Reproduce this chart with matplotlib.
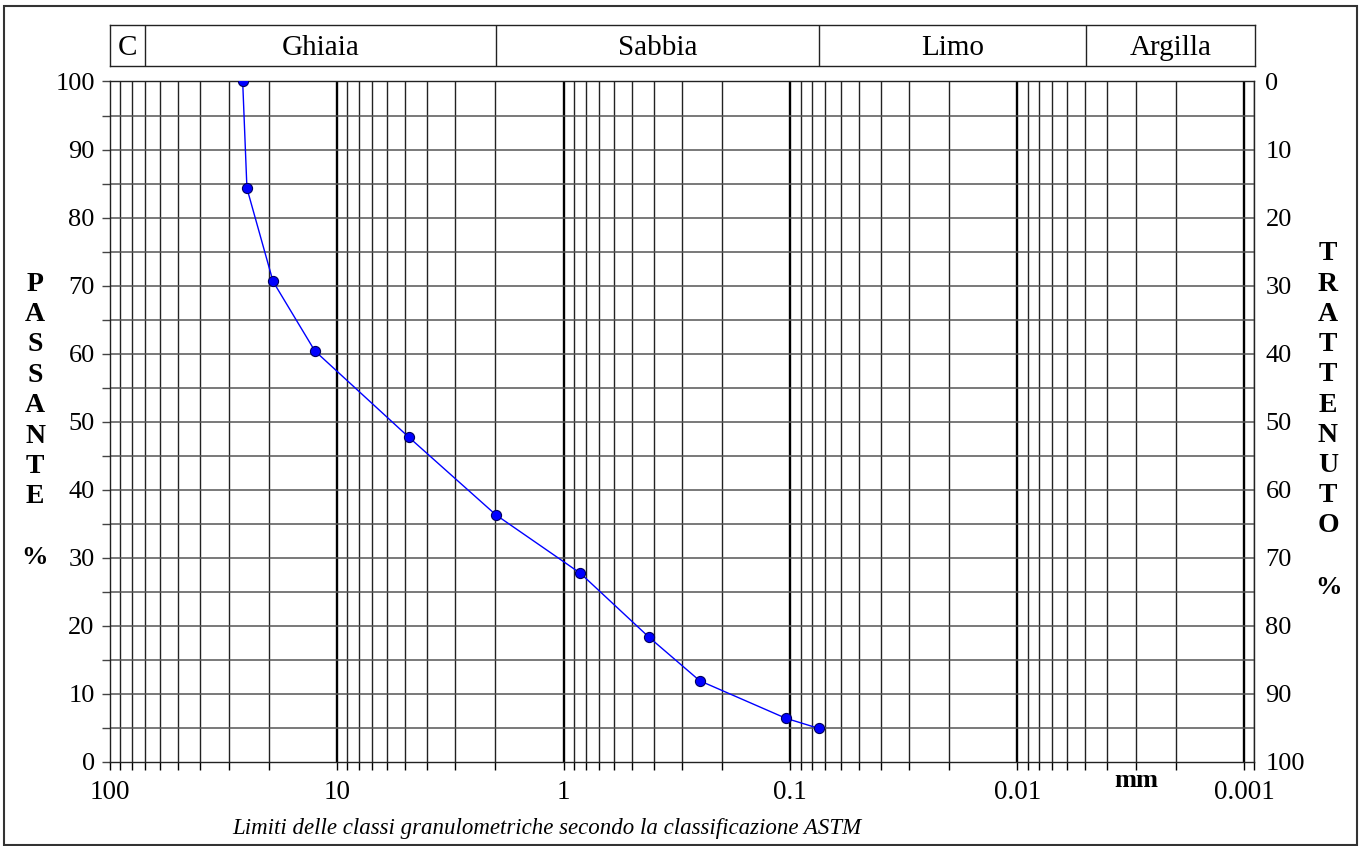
import numpy as np
import matplotlib
matplotlib.use("Agg")
import matplotlib.pyplot as plt
from matplotlib.patches import Rectangle

plt.rcParams['font.family'] = ['Liberation Serif', 'DejaVu Serif']

# grain size curve (mm, % passing)
diametri = [26.0, 24.9, 19.1, 12.5, 4.81, 1.99, 0.843, 0.42, 0.251, 0.105, 0.075]
passante = [100, 84.3, 70.6, 60.4, 47.7, 36.3, 27.7, 18.3, 11.9, 6.4, 4.9]

# ASTM classes
classi = ['C', 'Ghiaia', 'Sabbia', 'Limo', 'Argilla']
limiti = [100, 70, 2, 0.075, 0.005, 0.0009]

decadi = [100, 10, 1, 0.1, 0.01, 0.001]
etichette_x = ['100', '10', '1', '0.1', '0.01', '0.001']

W, H = 1359, 846
fig = plt.figure(figsize=(W / 100, H / 100), dpi=100)

def fx(px):
    return px / W

def fy(py):
    return (H - py) / H

# outer frame
fig.patches.append(Rectangle((fx(4), fy(845)), fx(1357) - fx(4), fy(6) - fy(845),
                             transform=fig.transFigure, fill=False,
                             edgecolor='#333333', linewidth=1.5))

x0, x1 = 110, 1254.3
ax = fig.add_axes([fx(x0), fy(761.7), fx(x1) - fx(x0), fy(81.5) - fy(761.7)])
ax.set_xscale('log')
ax.set_xlim(100, 0.0009)
ax.set_ylim(0, 100)

# vertical grid lines
minori = [m * 10.0 ** k for k in range(-4, 2) for m in range(2, 10)]
minori = [v for v in minori if 0.0009 < v < 100]
for v in minori:
    ax.axvline(v, color='#222222', lw=1.0, zorder=1)
for v in decadi[1:]:
    ax.axvline(v, color='black', lw=1.7, zorder=1)
# horizontal grid lines
for v in range(5, 101, 5):
    ax.axhline(v, color='#555555', lw=1.1, zorder=1)

ax.plot(diametri, passante, color='#0000ff', lw=1.0, marker='o', markersize=7.3,
        markerfacecolor='#0000ff', markeredgecolor='#000060', markeredgewidth=0.8, zorder=3)

ax.set_xticks(decadi)
ax.set_xticklabels(etichette_x)
ax.set_xticks(minori, minor=True)
ax.tick_params(axis='x', which='both', direction='out', length=5.8, width=1.0,
               pad=7.5, labelsize=19.5)
ax.xaxis.set_minor_formatter(plt.NullFormatter())

ax.set_yticks(range(0, 101, 10))
ax.set_yticks(range(5, 101, 10), minor=True)
ax.tick_params(axis='y', which='both', direction='out', length=6, width=1.0,
               pad=5, labelsize=19, left=True, right=True, color='#444444')
for s in ax.spines.values():
    s.set_color('#222222')
    s.set_linewidth(1.0)

ax2 = ax.twinx()
ax2.set_ylim(100, 0)
ax2.set_yticks(range(0, 101, 10))
ax2.tick_params(axis='y', length=0, pad=8, labelsize=19)
for s in ax2.spines.values():
    s.set_visible(False)

# class band on top
band = fig.add_axes([fx(x0), fy(66), fx(x1 + 0.7) - fx(x0), fy(25) - fy(66)])
band.set_xscale('log')
band.set_xlim(100, 0.0009)
band.set_ylim(0, 1)
band.set_xticks([])
band.set_yticks([])
band.minorticks_off()
for s in band.spines.values():
    s.set_linewidth(1.0)
    s.set_color('#222222')
for v in limiti[1:-1]:
    band.axvline(v, color='#222222', lw=1.0)
for i, nome in enumerate(classi):
    centro = np.sqrt(limiti[i] * limiti[i + 1])
    band.text(centro, 0.45, nome, ha='center', va='center', fontsize=21)

# vertical axis titles
for i, c in enumerate('PASSANTE'):
    fig.text(fx(35), fy(284 + i * 30.4), c, ha='center', va='center',
             fontsize=20, fontweight='bold')
fig.text(fx(35), fy(557), '%', ha='center', va='center', fontsize=19, fontweight='bold')
for i, c in enumerate('TRATTENUTO'):
    fig.text(fx(1328), fy(254 + i * 30.2), c, ha='center', va='center',
             fontsize=20, fontweight='bold')
fig.text(fx(1328), fy(588), '%', ha='center', va='center', fontsize=19, fontweight='bold')

fig.text(fx(1136), fy(780), 'mm', ha='center', va='center', fontsize=19, fontweight='bold')
fig.text(fx(547), fy(828), 'Limiti delle classi granulometriche secondo la classificazione ASTM',
         ha='center', va='center', fontsize=16.5, style='italic')

fig.savefig('out.png', dpi=100)
